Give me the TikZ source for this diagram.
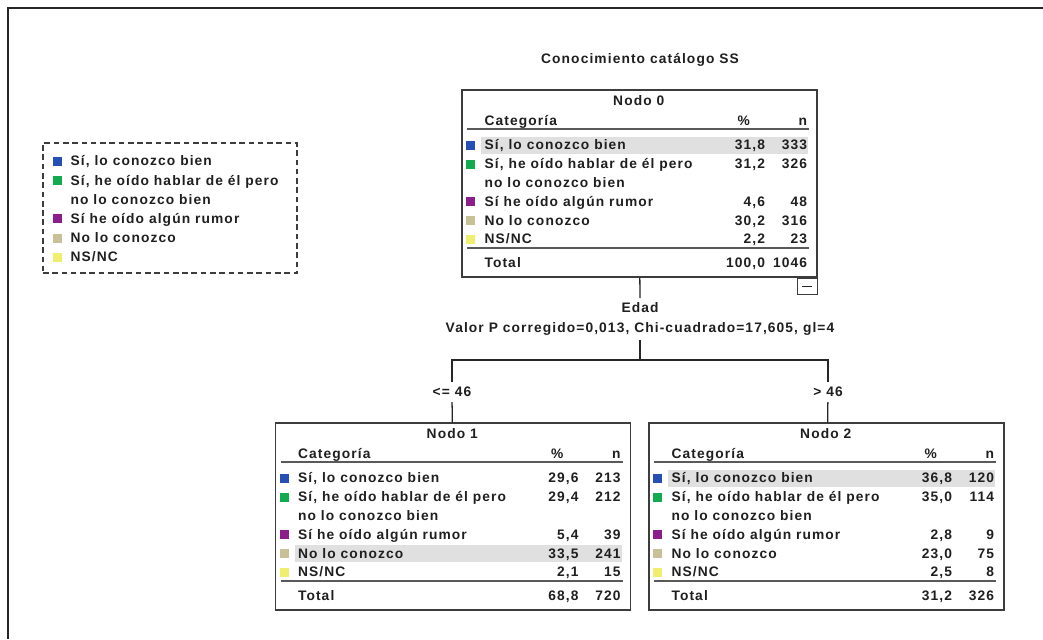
\documentclass[tikz,border=0pt]{standalone}
\usepackage{fontspec}
\setmainfont{Liberation Sans}
\newfontfamily\treefont{Liberation Sans}[LetterSpace=8]
\usetikzlibrary{positioning,calc}

\definecolor{catblue}{RGB}{40,80,180}
\definecolor{catgreen}{RGB}{20,170,80}
\definecolor{catpurple}{RGB}{140,30,140}
\definecolor{cattan}{RGB}{200,192,150}
\definecolor{catyellow}{RGB}{240,238,110}
\definecolor{rowgray}{RGB}{224,224,224}
\definecolor{framegray}{RGB}{60,60,60}

% table inside a tree node: #1 node, #2 title, #3 highlighted row,
% #4 list of %/n pairs, #5 total %, #6 total n
\newcommand{\nodetable}[6]{%
  \begin{scope}[shift={(#1.north west)}]
    \fill[rowgray] (20,{56+18.8*#3-8.5}) rectangle (347,{56+18.8*#3+8.5});
    \node[txt, anchor=mid] (#1title) at (177.5,11) {#2};
    \node[txt, anchor=mid west] at (23,31) {Categoría};
    \node[txt, anchor=mid east] at (289,31) {\%};
    \node[txt, anchor=mid east] at (346,31) {n};
    \draw[rule] (6,40) -- (348,40);
    \foreach \lab/\col [count=\k] in \cats {
      \pgfmathtruncatemacro\r{\k<3 ? \k-1 : \k}
      \fill[\col] (5,{56.5+18.8*\r-5}) rectangle (14,{56.5+18.8*\r+4});
      \node[txt, anchor=mid west] at (23,{55+18.8*\r}) {\lab};
    }
    \node[txt, anchor=mid west] at (23,{55+18.8*2}) {no lo conozco bien};
    \foreach \pct/\cnt [count=\k] in {#4} {
      \pgfmathtruncatemacro\r{\k<3 ? \k-1 : \k}
      \node[txt, anchor=mid east] at (304,{55+18.8*\r}) {\pct};
      \node[txt, anchor=mid east] at (346,{55+18.8*\r}) {\cnt};
    }
    \draw[rule] (6,159) -- (348,159);
    \node[txt, anchor=mid west] at (23,173) {Total};
    \node[txt, anchor=mid east] at (304,173) {#5};
    \node[txt, anchor=mid east] at (346,173) {#6};
  \end{scope}}

\begin{document}
\begin{tikzpicture}[
  x=0.025cm, y=-0.025cm,
  txt/.style={font=\treefont\bfseries\fontsize{9.8}{14.2}\selectfont, inner sep=0pt, text=black!88, yshift=-1.4pt},
  treebox/.style={draw=framegray, line width=1pt, minimum width=8.875cm, minimum height=4.675cm, inner sep=0pt},
  legendbox/.style={draw=framegray, line width=1pt, dash pattern=on 4pt off 2.6pt, minimum width=6.35cm, minimum height=3.25cm, inner sep=0pt},
  togglebox/.style={draw=framegray, line width=0.8pt, minimum width=0.5cm, minimum height=0.4cm, inner sep=0pt},
  rule/.style={draw=black!65, line width=1.6pt},
  edge/.style={draw=black!85, line width=0.9pt},
  frame/.style={draw=black!85, line width=1.3pt}
]
\useasboundingbox (0,0) rectangle (1043,639);
\fill[white] (0,0) rectangle (1043,639);
\draw[frame] (8,639) -- (8,8) -- (1043,8);

\def\cats{{Sí, lo conozco bien}/catblue, {Sí, he oído hablar de él pero}/catgreen,
  {Sí he oído algún rumor}/catpurple, {No lo conozco}/cattan, {NS/NC}/catyellow}

% legend
\node[legendbox] (legend) at (170,208) {};
\begin{scope}[shift={(legend.north west)}]
  \foreach \lab/\col [count=\k] in \cats {
    \pgfmathtruncatemacro\r{\k<3 ? \k-1 : \k}
    \fill[\col] (11,{19.5+19.2*\r-5}) rectangle (20,{19.5+19.2*\r+4});
    \node[txt, anchor=mid west] at (28,{18+19.2*\r}) {\lab};
  }
  \node[txt, anchor=mid west] at (28,{18+19.2*2}) {no lo conozco bien};
\end{scope}

% tree
\node[txt] (title) at (640,58) {Conocimiento catálogo SS};

\node[treebox] (n0) at (639.5,183.5) {};
\nodetable{n0}{Nodo 0}{0}{{31,8}/333, {31,2}/326, {4,6}/48, {30,2}/316, {2,2}/23}{100,0}{1046}
\node[togglebox, anchor=north east] (n0toggle) at (n0.south east) {};
\draw[edge] ($(n0toggle.center)+(-5,0)$) -- ($(n0toggle.center)+(5,0)$);

\node[txt, align=center, inner sep=3pt] (split) at (640,317)
  {Edad\\Valor P corregido=0,013, Chi-cuadrado=17,605, gl=4};
\coordinate (fork) at (640,360);

\node[txt, inner sep=3.5pt] (lbl1) at (452,390) {<= 46};
\node[txt, inner sep=3.5pt] (lbl2) at (828,390) {> 46};

\node[treebox] (n1) at (453,516.5) {};
\nodetable{n1}{Nodo 1}{4}{{29,6}/213, {29,4}/212, {5,4}/39, {33,5}/241, {2,1}/15}{68,8}{720}

\node[treebox] (n2) at (826.5,516.5) {};
\nodetable{n2}{Nodo 2}{0}{{36,8}/120, {35,0}/114, {2,8}/9, {23,0}/75, {2,5}/8}{31,2}{326}

\draw[edge] (n0) -- (split);
\draw[edge] (split) -- (fork);
\draw[edge] (fork) -| (lbl1);
\draw[edge] (fork) -| (lbl2);
\draw[edge] (lbl1) -- (n1);
\draw[edge] (lbl2) -- (n2);

\end{tikzpicture}
\end{document}
